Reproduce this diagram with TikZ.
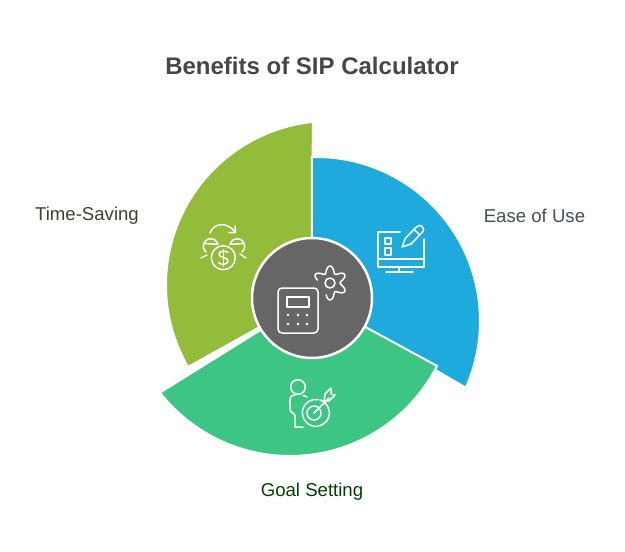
\documentclass[tikz,border=0pt]{standalone}
\usepackage{fontspec}
\setmainfont{Liberation Sans}
\usepackage{tikz}
\usetikzlibrary{arrows.meta,positioning}
\definecolor{segblue}{HTML}{1EAADC}
\definecolor{seggreen}{HTML}{3CC583}
\definecolor{segolive}{HTML}{92BC39}
\definecolor{hubgrey}{HTML}{666666}
\begin{document}
\begin{tikzpicture}[
  x=1pt,y=1pt,yscale=-1,
  seg/.style={draw=white,line width=2pt,line join=miter},
  icon/.style={draw=white,line width=1.5pt,line cap=round,line join=round},
  dot/.style={fill=white,circle,inner sep=0pt,minimum size=2.6pt},
  lab/.style={font=\fontsize{18.6}{22}\selectfont}
]
\useasboundingbox (0,0) rectangle (625,552);
\coordinate (hub) at (312,298);
\coordinate (cblue) at (316,321);
\coordinate (cgreen) at (290,291);
\coordinate (colive) at (330,285);
% sectors
\fill[seg,fill=segolive] (hub) -- ([shift={(150:164)}]colive) arc[start angle=150,end angle=264,radius=164] -- cycle;
\fill[seg,fill=segblue] (hub) -- ([shift={(-91.4:164)}]cblue) arc[start angle=-91.4,end angle=24,radius=164] -- cycle;
\fill[seg,fill=seggreen] (hub) -- ([shift={(27:165)}]cgreen) arc[start angle=27,end angle=142,radius=165] -- cycle;
\node[draw=white,line width=2.5pt,fill=hubgrey,circle,minimum size=120pt,inner sep=0pt] (core) at (hub) {};
% labels
\node[font=\fontsize{24}{28}\selectfont\bfseries,text=black!72] (title) at (312,66) {Benefits of SIP Calculator};
\node[lab,text=black!70!olive] (timelab) at (87,216) {Time-Saving};
\node[lab,text=black!75!cyan] (easelab) at (534.5,216) {Ease of Use};
\node[lab,text=black!75!green] (goallab) at (312,492) {Goal Setting};
% calculator
\draw[icon,rounded corners=4pt] (278,288) rectangle (318,333);
\draw[icon] (287,297) rectangle (309,307);
\foreach \xd in {288,298,307} \foreach \yd in {315,324} \node[dot] (d\xd\yd) at (\xd,\yd) {};
% gear
\draw[icon] (330,283) circle (5);
\draw[icon] plot[smooth,samples=70,domain=193:468] ({330+(13.5+3.5*cos(6*(\x-30)))*cos(\x)},{283+(13.5+3.5*cos(6*(\x-30)))*sin(\x)});
% coins
\draw[icon] (223.3,257.7) circle (12);
\draw[icon] (228,252.5) .. controls (225,250) and (218.5,251) .. (219,254.5) .. controls (219.5,258) and (228,257) .. (228,261) .. controls (228,264.5) and (221,265.5) .. (218.5,262.5);
\draw[icon] (223.3,249.5) -- (223.3,266);
\draw[icon] (210,233) .. controls (214,222) and (228,222) .. (235,232);
\draw[icon] (235,226) -- (235.5,232.5) -- (229,232.5);
\draw[icon] (206,252) arc[start angle=130,end angle=345,radius=7.5] -- (204.5,243.5);
\draw[icon] (242,252) arc[start angle=50,end angle=-165,radius=7.5] -- (243.5,243.5);
\draw[icon] (201,258) -- (207,255);
\draw[icon] (240,254) -- (246,258);
% monitor
\draw[icon] (400,232) -- (378,232) -- (378,267) -- (424,267) -- (424,239);
\draw[icon] (378,259) -- (424,259);
\draw[icon] (399,267) -- (399,272);
\draw[icon] (386,272) -- (413,272);
\draw[icon] (385,238) rectangle (391,244);
\draw[icon] (385,248) rectangle (391,255);
\draw[icon] (402,247) -- (405.5,238) -- (417,226.5) .. controls (419,225) and (420.5,225) .. (422,226.5) .. controls (424,228.5) and (424,230) .. (423,231.5) -- (411,244) -- cycle;
\draw[icon] (414,229.5) -- (420,235);
% person and target
\draw[icon] (298,387) circle (7.3);
\draw[icon] (295,395) .. controls (289,395) and (290,400) .. (290,403) -- (290,409) .. controls (290,413) and (295,413) .. (295,416) -- (295,427) -- (303,427);
\draw[icon] (303,395.5) -- (307,397);
\draw[icon] (320,400) arc[start angle=-72,end angle=280,radius=13.5];
\draw[icon] (314,406) arc[start angle=-90,end angle=260,radius=7];
\draw[icon] (314,413) -- (329,398);
\draw[icon] (324,402) -- (325,394) -- (331,388) -- (331,394) -- (335,395) -- (329,401) -- cycle;
\end{tikzpicture}
\end{document}
